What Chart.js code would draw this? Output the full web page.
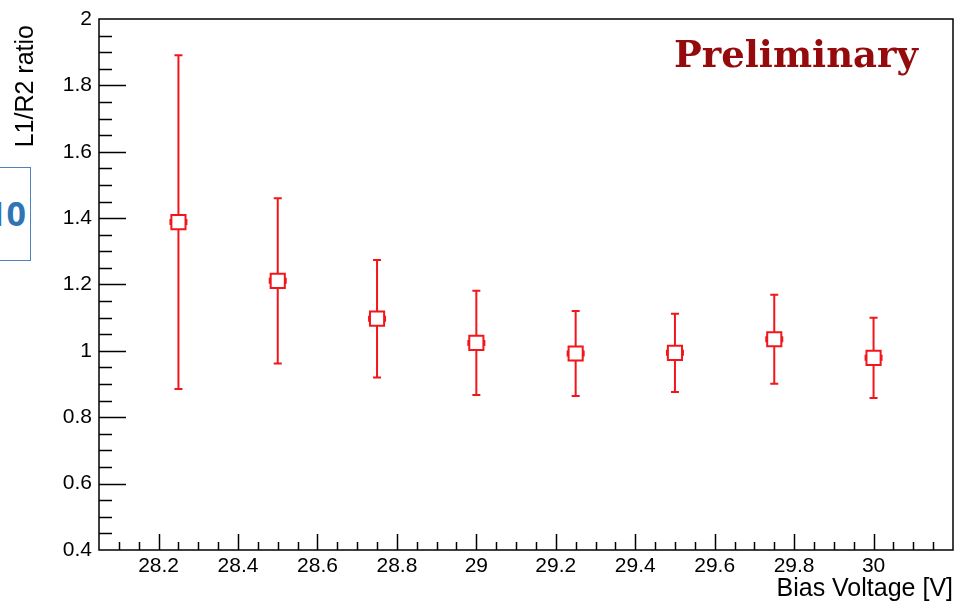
<!DOCTYPE html>
<html>
<head>
<meta charset="utf-8">
<script src="https://cdn.jsdelivr.net/npm/chart.js@4.4.1/dist/chart.umd.min.js"></script>
<style>
    html, body { margin: 0; padding: 0; background: #fff; }
    #wrap { position: relative; width: 958px; height: 605px; overflow: hidden; }
    #side-box {
        position: absolute; left: -60px; top: 167px; width: 89px; height: 92px;
        border: 1px solid #4f81bd; background: #fff;
    }
    #side-box span {
        position: absolute; right: 4px; top: 28px;
        font: bold 34px "Open Sans", sans-serif; color: #2e75b6; line-height: 34px;
    }
</style>
</head>
<body>
<div id="wrap">
    <canvas id="ratioChart" width="958" height="605"></canvas>
    <div id="side-box"><span>10</span></div>
</div>
<script>
// Bias voltage points and L1/R2 ratio with symmetric errors
const voltages = [28.25, 28.5, 28.75, 29, 29.25, 29.5, 29.75, 30];
const ratios = [1.388, 1.211, 1.097, 1.024, 0.992, 0.994, 1.035, 0.979];
const ratioErrors = [0.503, 0.249, 0.177, 0.157, 0.128, 0.118, 0.134, 0.121];

const xTicks = [28.2, 28.4, 28.6, 28.8, 29, 29.2, 29.4, 29.6, 29.8, 30];
const xTickLabels = ["28.2", "28.4", "28.6", "28.8", "29", "29.2", "29.4", "29.6", "29.8", "30"];
const yTicks = [0.4, 0.6, 0.8, 1, 1.2, 1.4, 1.6, 1.8, 2];
const yTickLabels = ["0.4", "0.6", "0.8", "1", "1.2", "1.4", "1.6", "1.8", "2"];

const RED = "#f2161b";

const errorBars = {
    id: "errorBars",
    beforeDatasetsDraw(chart) {
        const { ctx, scales: { x, y } } = chart;
        ctx.save();
        ctx.strokeStyle = RED;
        ctx.lineWidth = 2;
        voltages.forEach((v, i) => {
            const px = x.getPixelForValue(v);
            const top = y.getPixelForValue(ratios[i] + ratioErrors[i]);
            const bot = y.getPixelForValue(ratios[i] - ratioErrors[i]);
            ctx.beginPath();
            ctx.moveTo(px, top);
            ctx.lineTo(px, bot);
            ctx.moveTo(px - 4, top);
            ctx.lineTo(px + 4, top);
            ctx.moveTo(px - 4, bot);
            ctx.lineTo(px + 4, bot);
            ctx.stroke();
        });
        ctx.restore();
    },
    afterDatasetsDraw(chart) {
        // little side marks on each marker
        const { ctx, scales: { x, y } } = chart;
        ctx.save();
        ctx.strokeStyle = RED;
        ctx.lineWidth = 2;
        voltages.forEach((v, i) => {
            const px = x.getPixelForValue(v);
            const py = y.getPixelForValue(ratios[i]);
            ctx.beginPath();
            ctx.moveTo(px - 8, py - 3);
            ctx.lineTo(px - 8, py + 3);
            ctx.moveTo(px + 8, py - 3);
            ctx.lineTo(px + 8, py + 3);
            ctx.stroke();
        });
        ctx.restore();
    }
};

const frameAndText = {
    id: "frameAndText",
    afterDraw(chart) {
        const { ctx, chartArea: a, scales: { x, y } } = chart;
        ctx.save();
        ctx.strokeStyle = "#000";
        ctx.lineWidth = 1.5;
        ctx.strokeRect(a.left, a.top, a.right - a.left, a.bottom - a.top);

        // ticks pointing into the frame
        ctx.beginPath();
        for (let v = 28.1; v < x.max - 0.01; v += 0.05) {
            const px = Math.round(x.getPixelForValue(v)) + 0.5;
            const major = xTicks.some(t => Math.abs(t - v) < 1e-6);
            ctx.moveTo(px, a.bottom);
            ctx.lineTo(px, a.bottom - (major ? 16 : 8));
        }
        for (let v = 0.45; v < y.max - 0.01; v += 0.05) {
            const py = Math.round(y.getPixelForValue(v)) + 0.5;
            const major = yTicks.some(t => Math.abs(t - v) < 1e-6);
            ctx.moveTo(a.left, py);
            ctx.lineTo(a.left + (major ? 27 : 13), py);
        }
        ctx.stroke();

        // axis titles
        ctx.fillStyle = "#000";
        ctx.font = "25px 'Liberation Sans', Arial, sans-serif";
        ctx.textAlign = "right";
        ctx.textBaseline = "alphabetic";
        ctx.fillText("Bias Voltage [V]", 953, 596);
        ctx.save();
        ctx.translate(33, 25);
        ctx.rotate(-Math.PI / 2);
        ctx.fillText("L1/R2 ratio", 0, 0);
        ctx.restore();

        // Preliminary label
        ctx.fillStyle = "#950b0d";
        ctx.font = "bold 37px 'DejaVu Serif', serif";
        ctx.textAlign = "right";
        ctx.fillText("Preliminary", 918, 67);
        ctx.restore();
    }
};

const ctx = document.getElementById("ratioChart").getContext("2d");
new Chart(ctx, {
    type: "scatter",
    data: {
        datasets: [{
            label: "L1/R2 ratio",
            data: voltages.map((v, i) => ({ x: v, y: ratios[i] })),
            pointStyle: "rect",
            pointRadius: 10,
            pointBorderWidth: 2,
            borderColor: RED,
            backgroundColor: "#fff",
            showLine: false
        }]
    },
    options: {
        responsive: false,
        animation: false,
        devicePixelRatio: 1,
        layout: { autoPadding: false, padding: { top: 19, right: 5, left: 0, bottom: 0 } },
        plugins: {
            legend: { display: false },
            tooltip: { enabled: false }
        },
        scales: {
            x: {
                type: "linear",
                min: 28.05,
                max: 30.2,
                grid: { display: false, drawTicks: false },
                border: { display: false },
                afterBuildTicks: s => { s.ticks = xTicks.map(v => ({ value: v })); },
                afterFit: s => { s.height = 55; s.paddingLeft = 0; s.paddingRight = 0; },
                ticks: {
                    autoSkip: false,
                    maxRotation: 0,
                    padding: 4,
                    color: "#000",
                    font: { family: "'Liberation Sans', Arial, sans-serif", size: 21 },
                    callback: (v, i) => xTickLabels[i]
                }
            },
            y: {
                type: "linear",
                min: 0.4,
                max: 2,
                grid: { display: false, drawTicks: false },
                border: { display: false },
                afterBuildTicks: s => { s.ticks = yTicks.map(v => ({ value: v })); },
                afterFit: s => { s.width = 99; s.paddingTop = 0; s.paddingBottom = 0; },
                ticks: {
                    autoSkip: false,
                    padding: 7,
                    color: "#000",
                    font: { family: "'Liberation Sans', Arial, sans-serif", size: 21 },
                    callback: (v, i) => yTickLabels[i]
                }
            }
        }
    },
    plugins: [errorBars, frameAndText]
});
</script>
</body>
</html>
